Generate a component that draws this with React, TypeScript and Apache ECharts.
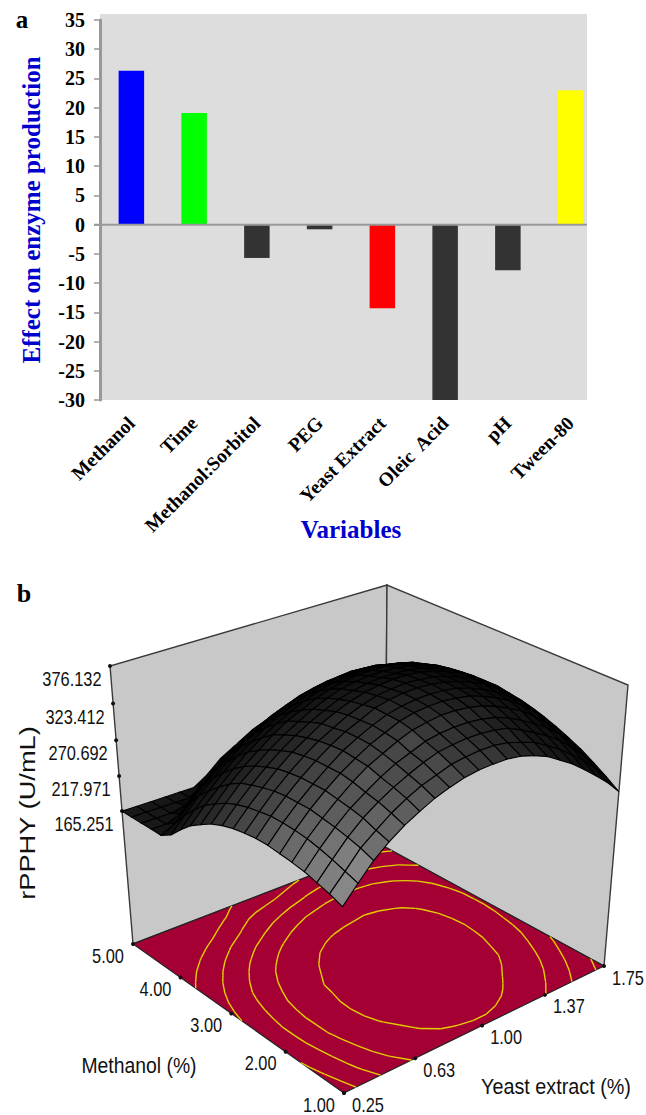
import React, { useEffect, useRef } from "react";
import * as echarts from "echarts";

const variables = ["Methanol", "Time", "Methanol:Sorbitol", "PEG", "Yeast Extract", "Oleic  Acid", "pH", "Tween-80"];
const effects = [26.3, 19.1, -5.7, -0.8, -14.3, -30, -7.8, 23];
const barColors = ["#0000FF", "#00FF00", "#333333", "#333333", "#FF0000", "#333333", "#333333", "#FFFF00"];

const zTickValues = [376.132, 323.412, 270.692, 217.971, 165.251];
const methanolTicks = ["1.00", "2.00", "3.00", "4.00", "5.00"];
const yeastTicks = ["0.25", "0.63", "1.00", "1.37", "1.75"];
const contourLevels = [200, 240, 275, 305, 342];

// rPPHY. Rows: methanol 1 -> 5, columns: yeast extract 0.25 -> 1.75
const surfaceRows = [
  [221,244,266,283,297,308,318,325,331,334,335,335,332,326,318,306,294,279,263,246,226],
  [228,250,273,289,304,316,326,333,340,343,345,345,342,336,329,318,306,292,276,259,239],
  [233,256,278,296,310,322,332,341,348,351,353,353,351,347,338,328,317,304,288,270,251],
  [238,261,282,300,314,327,338,346,354,358,360,360,358,354,347,337,326,314,299,280,262],
  [241,265,285,303,319,333,343,353,361,365,368,368,366,362,355,346,336,322,307,291,271],
  [243,267,288,306,322,335,347,356,365,370,372,373,371,368,361,353,343,330,315,298,279],
  [245,268,288,306,322,337,348,358,366,371,374,375,374,371,365,357,347,335,321,305,286],
  [245,268,288,306,322,336,348,357,367,372,375,376,375,372,367,360,351,339,325,310,291],
  [243,265,286,304,320,334,345,356,364,370,373,375,374,372,367,360,352,341,327,313,295],
  [240,262,282,301,317,330,343,353,361,367,371,373,373,371,367,360,352,342,329,316,298],
  [235,257,277,295,311,325,337,347,356,362,366,368,368,367,364,358,351,341,329,316,300],
  [228,250,271,288,304,318,330,341,350,357,361,363,364,363,360,354,349,339,328,316,300],
  [218,240,261,279,295,310,323,332,342,349,354,357,358,358,355,350,344,336,326,314,300],
  [207,229,248,267,284,298,311,322,331,339,344,347,349,350,347,344,339,330,321,311,297],
  [192,214,234,253,270,284,298,309,318,326,332,336,338,340,339,335,331,324,315,306,294],
  [175,197,218,236,253,269,282,294,304,313,319,324,326,329,328,326,322,317,309,301,289],
  [165,176,197,217,234,250,263,276,288,296,304,309,313,315,316,315,312,307,301,293,283],
  [165,165,173,193,211,227,243,255,268,277,285,291,297,300,302,301,300,295,288,281,270],
  [165,165,165,169,185,205,224,238,250,258,265,271,278,283,285,285,285,281,275,269,258],
  [165,165,165,165,165,180,198,212,224,232,240,248,256,262,266,267,268,264,259,252,243],
  [165,165,165,165,165,165,178,196,208,216,221,228,236,242,245,246,246,244,241,237,232],
];

const N = surfaceRows.length - 1;
const SERIF = "'Liberation Serif','Times New Roman',serif";
const SANS = "'Liberation Sans',Arial,sans-serif";

// perspective frame of the 3D plot
const B = [344, 1093], R = [604, 966], K = [385, 847], L = [133, 944];
const TL = [110, 666], TK = [387, 585], TR = [628, 685];
const VP = [366, 3757];
const sx = B[0] - R[0] + K[0] - L[0], sy = B[1] - R[1] + K[1] - L[1];
const dx1 = R[0] - K[0], dy1 = R[1] - K[1], dx2 = L[0] - K[0], dy2 = L[1] - K[1];
const det = dx1 * dy2 - dx2 * dy1;
const g = (sx * dy2 - dx2 * sy) / det, h = (dx1 * sy - sx * dy1) / det;
const ha = R[0] - B[0] + g * R[0], hb = L[0] - B[0] + h * L[0];
const hd = R[1] - B[1] + g * R[1], he = L[1] - B[1] + h * L[1];
const wL = 1 + h;
const kw = (wL * (L[1] - TL[1])) / (TL[1] - VP[1]);

function project(u: number, v: number, w: number) {
  const W = g * u + h * v + 1 + w * kw;
  const X = ha * u + hb * v + B[0] + w * kw * VP[0];
  const Y = hd * u + he * v + B[1] + w * kw * VP[1];
  return [X / W, Y / W];
}
const valToW = (val: number) => 0.502 + (val - 165.25) / 423.5;
const cellPoint = (i: number, j: number) => project(i / N, j / N, valToW(surfaceRows[j][i]));
const polyArea = (p: number[][]) => {
  let a = 0;
  for (let k = 0; k < p.length; k++) {
    const q = p[(k + 1) % p.length];
    a += p[k][0] * q[1] - q[0] * p[k][1];
  }
  return Math.abs(a) / 2;
};

function buildCells() {
  const cells: number[][] = [];
  let maxA = 0;
  for (let j = 0; j < N; j++)
    for (let i = 0; i < N; i++) {
      const a = polyArea([cellPoint(i, j), cellPoint(i + 1, j), cellPoint(i + 1, j + 1), cellPoint(i, j + 1)]);
      maxA = Math.max(maxA, a);
      cells.push([i, j, a]);
    }
  cells.sort((p, q) => q[0] + q[1] - (p[0] + p[1]));
  return cells.map((c) => [c[0], c[1], Math.round(5 + 130 * Math.pow(c[2] / maxA, 1.5))]);
}

function buildContours() {
  const segs: number[][] = [];
  contourLevels.forEach((lv) => {
    for (let j = 0; j < N; j++)
      for (let i = 0; i < N; i++) {
        const c = [
          [i, j, surfaceRows[j][i]],
          [i + 1, j, surfaceRows[j][i + 1]],
          [i + 1, j + 1, surfaceRows[j + 1][i + 1]],
          [i, j + 1, surfaceRows[j + 1][i]],
        ];
        const pts: number[][] = [];
        for (let e = 0; e < 4; e++) {
          const p = c[e], q = c[(e + 1) % 4];
          if (p[2] < lv !== q[2] < lv) {
            const t = (lv - p[2]) / (q[2] - p[2]);
            pts.push([(p[0] + t * (q[0] - p[0])) / N, (p[1] + t * (q[1] - p[1])) / N]);
          }
        }
        if (pts.length >= 2) segs.push([pts[0][0], pts[0][1], pts[1][0], pts[1][1]]);
      }
  });
  return segs;
}

function label3d(text: string, x: number, y: number, size: number, scaleX: number, rotation = 0) {
  return {
    type: "text", x, y, scaleX, rotation, z: 10,
    style: { text, fontFamily: SANS, fontSize: size, fill: "#111", align: "center", verticalAlign: "middle", textAlign: "center", textVerticalAlign: "middle" },
  };
}

function buildOption() {
  const graphics: any[] = [
    { type: "rect", shape: { x: 100, y: 14, width: 487, height: 386 }, style: { fill: "#DDDDDD" }, z: -1 },
    { type: "line", shape: { x1: 94, y1: 224.7, x2: 587, y2: 224.7 }, style: { stroke: "#999999", lineWidth: 2 }, z: 5 },
    { type: "text", x: 22, y: 19, style: { text: "a", fontFamily: SERIF, fontWeight: "bold", fontSize: 25, fill: "#000", align: "center", verticalAlign: "middle", textAlign: "center", textVerticalAlign: "middle" } },
    { type: "text", x: 24, y: 593, style: { text: "b", fontFamily: SERIF, fontWeight: "bold", fontSize: 26, fill: "#000", align: "center", verticalAlign: "middle", textAlign: "center", textVerticalAlign: "middle" } },
    label3d("rPPHY (U/mL)", 27, 813, 22, 1.24, Math.PI / 2),
    label3d("Methanol (%)", 139, 1065, 22, 0.88),
    label3d("Yeast extract (%)", 556, 1086, 22, 0.9),
  ];
  zTickValues.forEach((val) => {
    const p = project(0, 1, valToW(val));
    graphics.push(label3d(val.toFixed(3), p[0] - 38, p[1] + 13, 20, 0.82));
  });
  methanolTicks.forEach((t, k) => {
    const p = project(0, k / 4, 0);
    graphics.push(label3d(t, p[0] - 25, p[1] + 11.5, 20, 0.82));
  });
  yeastTicks.forEach((t, k) => {
    const p = project(k / 4, 0, 0);
    graphics.push(label3d(t, p[0] + 24, p[1] + 11.5, 20, 0.82));
  });

  const dots = [
    ...zTickValues.map((val) => [0, 1, valToW(val)]),
    ...methanolTicks.map((_, k) => [0, k / 4, 0]),
    ...yeastTicks.map((_, k) => [k / 4, 0, 0]),
  ];

  return {
    animation: false,
    backgroundColor: "#fff",
    graphic: { elements: graphics },
    grid: [
      { left: 100, top: 20, width: 502, height: 380, containLabel: false },
      { left: 0, top: 0, width: 646, height: 1115, containLabel: false },
    ],
    xAxis: [
      {
        type: "category", gridIndex: 0, data: variables,
        axisLine: { show: false }, axisTick: { show: false },
        axisLabel: { interval: 0, rotate: 45, margin: 20, color: "#000", fontFamily: SERIF, fontWeight: "bold", fontSize: 19.5 },
        name: "Variables", nameLocation: "center", nameGap: 117, nameMoveOverlap: false,
        nameTextStyle: { color: "#0000CC", fontFamily: SERIF, fontWeight: "bold", fontSize: 25 },
      },
      { type: "value", gridIndex: 1, min: 0, max: 646, show: false },
    ],
    yAxis: [
      {
        type: "value", gridIndex: 0, min: -30, max: 35, interval: 5,
        splitLine: { show: false },
        axisLine: { show: true, lineStyle: { color: "#999999", width: 3 } },
        axisTick: { show: true, length: 6, lineStyle: { color: "#999999", width: 1.5 } },
        axisLabel: { margin: 15, color: "#000", fontFamily: SERIF, fontWeight: "bold", fontSize: 20 },
        name: "Effect on enzyme production", nameLocation: "center", nameGap: 56, nameMoveOverlap: false,
        nameTextStyle: { color: "#0000CC", fontFamily: SERIF, fontWeight: "bold", fontSize: 25 },
      },
      { type: "value", gridIndex: 1, min: 0, max: 1115, inverse: true, show: false },
    ],
    series: [
      {
        type: "bar", xAxisIndex: 0, yAxisIndex: 0, barWidth: 25.5,
        data: effects.map((value, k) => ({ value, itemStyle: { color: barColors[k] } })),
      },
      {
        type: "custom", xAxisIndex: 1, yAxisIndex: 1, coordinateSystem: "cartesian2d", clip: false, silent: true, z: 3,
        data: [[0, 0]],
        renderItem: (_p: any, api: any) => {
          const pg = (pts: number[][]) => pts.map((q) => api.coord(q));
          const wallStyle = { fill: "#C8C8C8", stroke: "#3a3a3a", lineWidth: 1.4 };
          return {
            type: "group",
            children: [
              { type: "polygon", shape: { points: pg([L, K, TK, TL]) }, style: wallStyle },
              { type: "polygon", shape: { points: pg([K, R, TR, TK]) }, style: wallStyle },
              { type: "polygon", shape: { points: pg([B, R, K, L]) }, style: { fill: "#A50034", stroke: "#222", lineWidth: 1.2 } },
            ],
          };
        },
      },
      {
        type: "custom", xAxisIndex: 1, yAxisIndex: 1, coordinateSystem: "cartesian2d", clip: false, silent: true, z: 4,
        data: buildContours(),
        renderItem: (_p: any, api: any) => {
          const a = api.coord(project(api.value(0), api.value(1), 0));
          const b = api.coord(project(api.value(2), api.value(3), 0));
          return { type: "line", shape: { x1: a[0], y1: a[1], x2: b[0], y2: b[1] }, style: { stroke: "#E2D000", lineWidth: 1.4 } };
        },
      },
      {
        type: "custom", xAxisIndex: 1, yAxisIndex: 1, coordinateSystem: "cartesian2d", clip: false, silent: true, z: 5,
        data: dots,
        renderItem: (_p: any, api: any) => {
          const c = api.coord(project(api.value(0), api.value(1), api.value(2)));
          return { type: "circle", shape: { cx: c[0], cy: c[1], r: 2 }, style: { fill: "#111" } };
        },
      },
      {
        type: "custom", xAxisIndex: 1, yAxisIndex: 1, coordinateSystem: "cartesian2d", clip: false, silent: true, z: 6,
        data: buildCells(),
        renderItem: (_p: any, api: any) => {
          const i = api.value(0), j = api.value(1), s = api.value(2);
          const pts = [cellPoint(i, j), cellPoint(i + 1, j), cellPoint(i + 1, j + 1), cellPoint(i, j + 1)].map((q) => api.coord(q));
          return { type: "polygon", shape: { points: pts }, style: { fill: `rgb(${s},${s},${s})`, stroke: "#000", lineWidth: 1.1 } };
        },
      },
    ],
  };
}

export default function App() {
  const ref = useRef<HTMLDivElement>(null);
  useEffect(() => {
    document.body.style.margin = "0";
    const chart = echarts.init(ref.current!, undefined, { renderer: "svg" });
    chart.setOption(buildOption() as any);
    return () => chart.dispose();
  }, []);
  return <div ref={ref} style={{ width: 646, height: 1115 }} />;
}
